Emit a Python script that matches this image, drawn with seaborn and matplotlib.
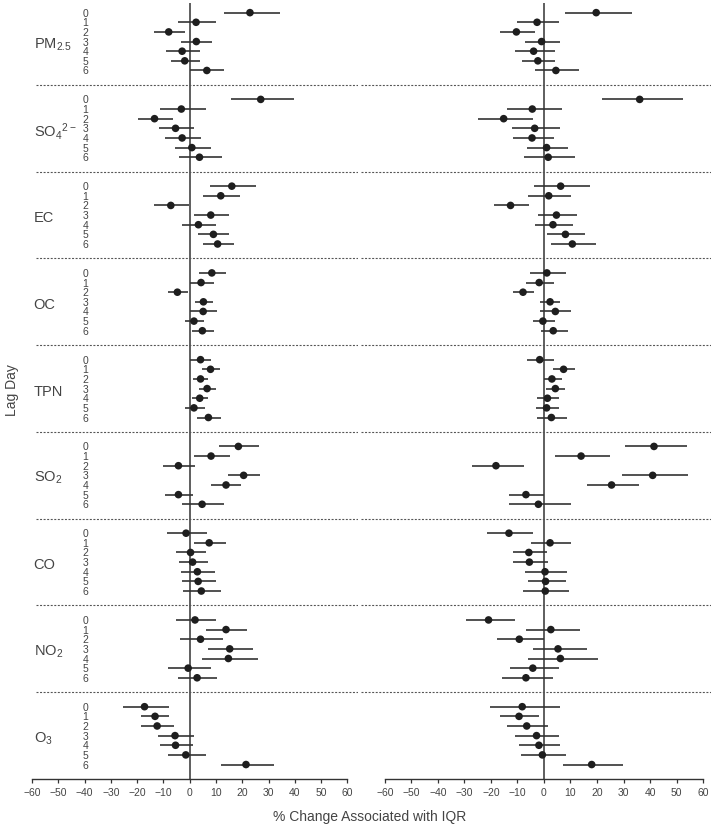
import matplotlib
matplotlib.use("Agg")
import matplotlib.pyplot as plt
import pandas as pd
import seaborn as sns

pollutants = [r"PM$_{2.5}$", r"SO$_4{}^{2-}$", "EC", "OC", "TPN",
              r"SO$_2$", "CO", r"NO$_2$", r"O$_3$"]
lags = [0, 1, 2, 3, 4, 5, 6]
xticks = [-60, -50, -40, -30, -20, -10, 0, 10, 20, 30, 40, 50, 60]

# left panel: estimate, lower and upper limit (rows = pollutants, cols = lag 0..6)
left_est = [
    [22.9, 2.4, -8.0, 2.5, -2.9, -1.9, 6.5],
    [27.0, -3.2, -13.4, -5.4, -2.9, 0.8, 3.7],
    [16.0, 11.8, -7.2, 8.0, 3.3, 9.0, 10.6],
    [8.4, 4.3, -4.7, 5.2, 5.1, 1.6, 4.8],
    [4.1, 7.9, 4.1, 6.6, 3.8, 1.6, 7.1],
    [18.5, 8.1, -4.3, 20.5, 13.8, -4.3, 4.7],
    [-1.4, 7.4, 0.3, 1.1, 2.9, 3.2, 4.4],
    [2.0, 13.8, 4.1, 15.2, 14.7, -0.6, 2.8],
    [-17.2, -13.2, -12.4, -5.6, -5.4, -1.5, 21.4],
]
left_lo = [
    [12.9, -4.6, -13.7, -3.2, -9.1, -7.2, 0.1],
    [15.6, -11.3, -19.6, -11.8, -9.3, -5.7, -4.1],
    [7.7, 5.2, -13.6, 1.5, -2.9, 3.3, 5.2],
    [3.4, 0.1, -8.2, 2.0, 0.1, -1.8, 1.0],
    [0.1, 4.7, 1.3, 3.5, 0.8, -1.9, 2.7],
    [11.3, 1.6, -10.1, 14.6, 8.1, -9.4, -2.9],
    [-8.6, 1.5, -5.1, -4.1, -3.3, -2.8, -2.5],
    [-5.3, 6.3, -3.8, 7.1, 4.7, -8.1, -4.3],
    [-25.5, -18.4, -18.4, -12.0, -11.3, -8.4, 11.8],
]
left_hi = [
    [34.5, 9.9, -1.9, 8.4, 3.8, 3.9, 13.2],
    [39.5, 6.0, -6.5, 1.6, 4.1, 7.9, 12.4],
    [25.1, 19.1, -0.4, 15.1, 10.0, 15.1, 16.7],
    [13.9, 9.1, -0.8, 8.9, 10.5, 5.6, 9.1],
    [8.2, 11.5, 7.1, 10.0, 7.1, 5.7, 11.9],
    [26.4, 15.2, 2.0, 26.7, 19.5, 1.3, 12.9],
    [6.5, 13.9, 6.0, 7.0, 9.6, 9.8, 11.9],
    [10.1, 21.9, 12.5, 24.2, 25.9, 7.9, 10.3],
    [-7.7, -7.7, -5.8, 1.6, 1.3, 6.2, 32.1],
]

# right panel
right_est = [
    [19.7, -2.6, -10.4, -0.9, -3.9, -2.3, 4.5],
    [36.1, -4.4, -15.2, -3.5, -4.5, 1.0, 1.6],
    [6.3, 1.8, -12.6, 4.7, 3.4, 8.1, 10.7],
    [1.1, -1.8, -7.9, 2.3, 4.3, -0.4, 3.5],
    [-1.6, 7.4, 3.0, 4.3, 1.3, 1.0, 2.8],
    [41.5, 14.0, -18.1, 41.0, 25.5, -6.8, -2.1],
    [-13.2, 2.3, -5.7, -5.5, 0.4, 0.6, 0.5],
    [-20.9, 2.6, -9.3, 5.3, 6.2, -4.2, -6.8],
    [-8.2, -9.4, -6.5, -2.8, -1.9, -0.6, 18.0],
]
right_lo = [
    [7.9, -10.1, -16.6, -7.2, -11.1, -8.2, -3.4],
    [21.8, -14.1, -24.8, -12.1, -11.8, -6.3, -7.7],
    [-3.6, -6.0, -18.9, -2.3, -3.5, 1.3, 2.5],
    [-5.4, -6.7, -11.6, -1.5, -1.5, -4.3, -1.3],
    [-6.5, 3.5, 0.0, 0.9, -2.8, -3.1, -2.5],
    [30.6, 4.2, -27.2, 29.4, 16.2, -13.3, -13.0],
    [-21.4, -4.8, -11.8, -11.7, -7.3, -6.2, -7.8],
    [-29.4, -6.7, -17.6, -4.2, -6.0, -12.7, -15.7],
    [-20.5, -16.4, -14.1, -10.8, -9.3, -8.6, 7.2],
]
right_hi = [
    [33.2, 5.7, -3.5, 6.0, 4.2, 4.2, 13.2],
    [52.3, 6.8, -4.3, 6.0, 3.6, 8.9, 11.8],
    [17.4, 10.2, -5.5, 12.3, 10.9, 15.5, 19.7],
    [8.2, 3.6, -3.9, 6.2, 10.3, 4.2, 8.9],
    [3.6, 11.7, 6.7, 8.1, 5.5, 5.5, 8.7],
    [53.8, 24.9, -7.7, 54.2, 35.8, 0.1, 10.2],
    [-4.0, 10.1, 1.3, 1.4, 8.8, 8.2, 9.6],
    [-11.1, 13.5, 0.0, 16.1, 20.4, 5.5, 3.4],
    [5.9, -1.8, 1.6, 5.8, 6.2, 8.3, 29.9],
]


def to_frame(est, lo, hi):
    rows = []
    for g, name in enumerate(pollutants):
        for k in lags:
            rows.append({"pollutant": name, "lag": k, "row": g * 9 + k,
                         "est": est[g][k], "lo": lo[g][k], "hi": hi[g][k]})
    return pd.DataFrame(rows)


left = to_frame(left_est, left_lo, left_hi)
right = to_frame(right_est, right_lo, right_hi)

sns.set_theme(style="white")
plt.rcParams["font.family"] = ["Liberation Sans", "DejaVu Sans"]
plt.rcParams["mathtext.default"] = "regular"

txt = "#444444"
fig = plt.figure(figsize=(7.14, 8.29), dpi=100)
ax1 = fig.add_axes([32 / 714, 49 / 829, 326 / 714, 776 / 829])
ax2 = fig.add_axes([361 / 714, 49 / 829, 350 / 714, 776 / 829])

for ax, d, xl, x0 in [(ax1, left, (-60, 64), -58.5), (ax2, right, (-69, 63), -69)]:
    ax.hlines(d["row"], d["lo"], d["hi"], color="#333333", lw=1.2, zorder=2)
    sns.scatterplot(data=d, x="est", y="row", ax=ax, color="#1e1e1e",
                    s=30, edgecolor="none", zorder=3, legend=False)
    ax.axvline(0, color="#333333", lw=1.1, zorder=1)
    for g in range(len(pollutants) - 1):
        ax.hlines(g * 9 + 7.5, x0, xl[1], color="#555555", lw=0.8,
                  linestyle=(0, (1.8, 1.4)), zorder=1)
    ax.set_xlim(*xl)
    ax.set_ylim(79.5, -1)
    ax.set_xticks(xticks)
    ax.set_yticks([])
    ax.set_xlabel("")
    ax.set_ylabel("")
    for s in ["left", "right", "top"]:
        ax.spines[s].set_visible(False)
    ax.spines["bottom"].set_bounds(-60, 60)
    ax.spines["bottom"].set_color("#333333")
    ax.spines["bottom"].set_linewidth(1.0)
    ax.tick_params(axis="x", direction="out", length=3, width=0.9,
                   color="#333333", labelsize=7.5, labelcolor=txt, pad=3)
    ax.tick_params(axis="x", bottom=True)

for g, name in enumerate(pollutants):
    ax1.text(-59.4, g * 9 + 3.2, name, ha="left", va="center",
             fontsize=10.5, color=txt)
    for k in lags:
        ax1.text(-39.7, g * 9 + k, str(k), ha="center", va="center",
                 fontsize=7.5, color=txt)

fig.text(370 / 714, 1 - 817 / 829, "% Change Associated with IQR",
         ha="center", va="center", fontsize=10, color=txt)
fig.text(12 / 714, 1 - 390 / 829, "Lag Day", ha="center", va="center",
         rotation=90, fontsize=10, color=txt)

fig.savefig("out.png", dpi=100)
